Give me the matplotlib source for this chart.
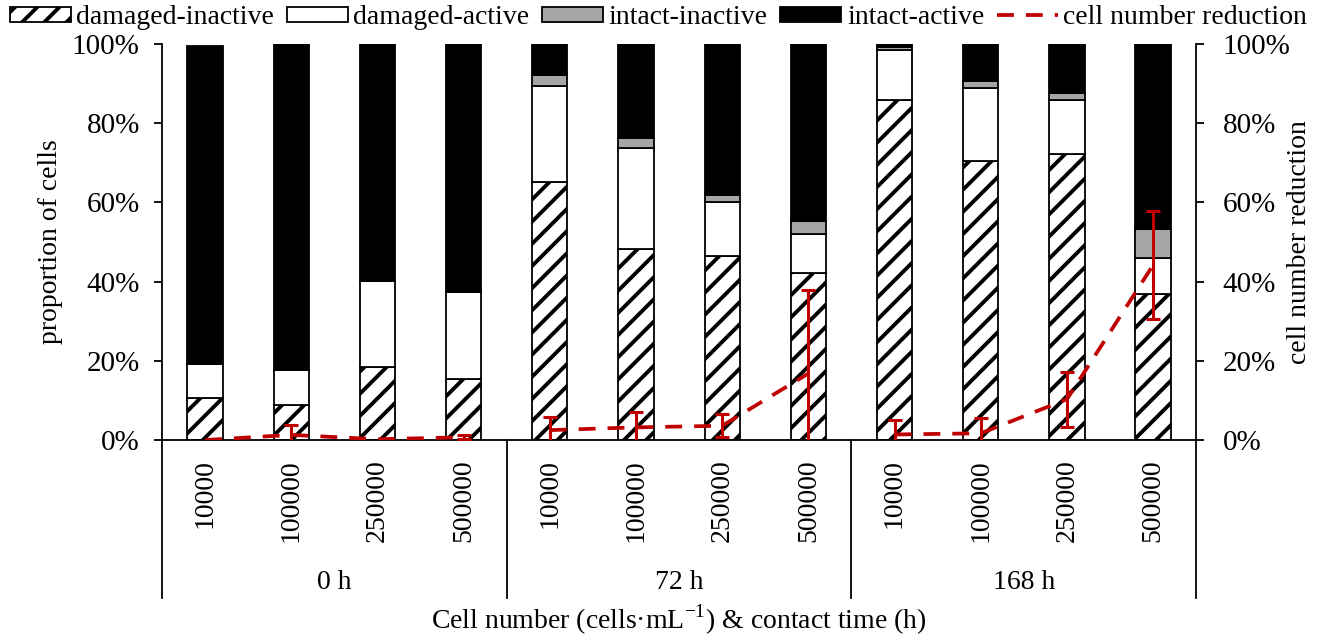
import numpy as np
import matplotlib
matplotlib.use('Agg')
import matplotlib.pyplot as plt
from matplotlib.patches import Patch
from matplotlib.lines import Line2D
import matplotlib.transforms as mtransforms

# higher dpi so the '//' hatch spacing comes out like the original (~11 px);
# all point sizes are scaled by S to keep the pixel sizes
DPI = 400 / 3
S = 100 / DPI

plt.rcParams['font.family'] = ['Liberation Serif', 'DejaVu Serif']
plt.rcParams['mathtext.fontset'] = 'custom'
plt.rcParams['mathtext.rm'] = 'Liberation Serif'
plt.rcParams['hatch.linewidth'] = 2.1
plt.rcParams['hatch.color'] = 'black'

# data (percent)
groups = ['0 h', '72 h', '168 h']
cells = ['10000', '100000', '250000', '500000'] * 3
damaged_inactive = [10.7, 8.8, 18.4, 15.3, 65.2, 48.2, 46.5, 42.3, 85.9, 70.5, 72.2, 37.0]
damaged_active = [8.4, 8.9, 21.8, 22.0, 24.2, 25.6, 13.7, 9.7, 12.6, 18.5, 13.7, 9.0]
intact_inactive = [0.0, 0.0, 0.0, 0.0, 2.9, 2.4, 1.8, 3.4, 0.8, 1.7, 1.8, 7.3]
intact_active = [80.5, 82.3, 59.8, 62.7, 7.7, 23.8, 38.0, 44.6, 0.7, 9.3, 12.3, 46.7]
reduction = [0.0, 1.3, 0.2, 0.7, 2.5, 3.2, 3.6, 16.8, 1.4, 1.7, 10.3, 44.2]
reduction_err = [np.nan, 2.5, np.nan, 0.5, 3.4, 3.8, 2.9, 21.1, 3.6, 3.8, 6.9, 13.6]

x = np.arange(len(cells))
di = np.array(damaged_inactive) / 100
da = np.array(damaged_active) / 100
ii = np.array(intact_inactive) / 100
ia = np.array(intact_active) / 100
red = np.array(reduction) / 100
rerr = np.array(reduction_err) / 100

FS = 20 * S
LW = 1.3 * S
RED = '#c00000'
dash = (0, (4.5, 3.2))

fig = plt.figure(figsize=(1317 / DPI, 638 / DPI), dpi=DPI)
ax = fig.add_axes([0.123, 0.3103, 0.7853, 0.6207])
w = 0.41
ax.bar(x, di, w, color='white', edgecolor='black', hatch='//', linewidth=LW)
ax.bar(x, da, w, bottom=di, color='white', edgecolor='black', linewidth=LW)
ax.bar(x, ii, w, bottom=di + da, color='#a6a6a6', edgecolor='black', linewidth=LW)
ax.bar(x, ia, w, bottom=di + da + ii, color='black', edgecolor='black', linewidth=LW)

ticks = np.arange(0, 1.01, 0.2)
ticklabels = [f'{int(round(v * 100))}%' for v in ticks]
ax.set_xlim(-0.5, 11.5)
ax.set_ylim(0, 1)
ax.set_yticks(ticks)
ax.set_yticklabels(ticklabels)
ax.set_xticks([])
for s in ['top', 'right']:
    ax.spines[s].set_visible(False)
for s in ['left', 'bottom']:
    ax.spines[s].set_linewidth(LW)
ax.tick_params(axis='y', direction='out', length=6 * S, width=LW, labelsize=21 * S, pad=10 * S)

ax2 = ax.twinx()
ax2.set_ylim(0, 1)
ax2.set_yticks(ticks)
ax2.set_yticklabels(ticklabels)
for s in ['top', 'left', 'bottom']:
    ax2.spines[s].set_visible(False)
ax2.spines['right'].set_linewidth(LW)
ax2.tick_params(axis='y', direction='out', length=6 * S, width=LW, labelsize=21 * S, pad=13 * S)

# reduction line, one piece per contact time
for g in range(3):
    sl = slice(g * 4, g * 4 + 4)
    ax2.plot(x[sl], red[sl], color=RED, lw=2.7 * S, ls=dash)
ok = ~np.isnan(rerr)
ax2.errorbar(x[ok], red[ok], yerr=rerr[ok], fmt='none', ecolor=RED,
             elinewidth=2.2 * S, capsize=5 * S, capthick=2.2 * S)

# category / group labels below the axis
tr = mtransforms.blended_transform_factory(ax.transData, ax.transAxes)
for xi, c in zip(x, cells):
    ax.text(xi, -0.048, c, rotation=90, ha='center', va='top', fontsize=FS, transform=tr)
for sx in [-0.5, 3.5, 7.5, 11.5]:
    ax.plot([sx, sx], [0, -0.40], color='black', lw=LW, transform=tr, clip_on=False)
for g, name in enumerate(groups):
    ax.text(g * 4 + 1.5, -0.361, name, ha='center', va='center', fontsize=FS, transform=tr)
ax.text(0.5, -0.455, r'Cell number (cells·mL$^{\mathregular{-1}}$) & contact time (h)',
        ha='center', va='center', fontsize=FS, transform=ax.transAxes)

fig.text(0.038, 0.621, 'proportion of cells', rotation=90, ha='center', va='center', fontsize=FS)
fig.text(0.987, 0.621, 'cell number reduction', rotation=90, ha='center', va='center', fontsize=FS)

handles = [
    Patch(facecolor='white', edgecolor='black', hatch='//', linewidth=LW),
    Patch(facecolor='white', edgecolor='black', linewidth=LW),
    Patch(facecolor='#a6a6a6', edgecolor='black', linewidth=LW),
    Patch(facecolor='black', edgecolor='black', linewidth=LW),
    Line2D([], [], color=RED, lw=2.7 * S, ls=dash),
]
labels = ['damaged-inactive', 'damaged-active', 'intact-inactive', 'intact-active', 'cell number reduction']
fig.legend(handles, labels, loc='center', bbox_to_anchor=(0.5, 0.972), ncol=5, frameon=False,
           fontsize=FS, handlelength=2.2, handleheight=0.5, handletextpad=0.2, columnspacing=0.45,
           borderaxespad=0, borderpad=0)

plt.savefig('out.png', dpi=DPI)
